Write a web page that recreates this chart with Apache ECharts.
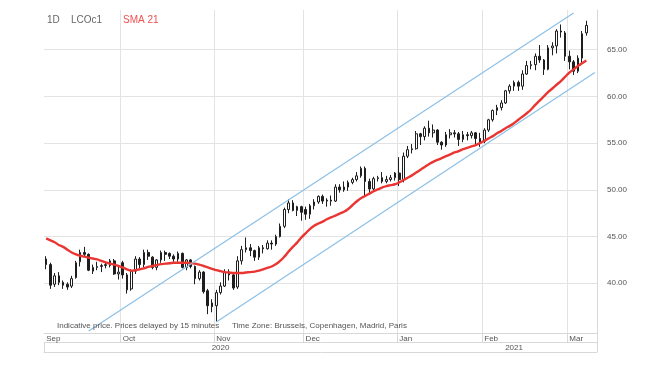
<!DOCTYPE html>
<html>
<head>
<meta charset="utf-8">
<script src="https://cdn.jsdelivr.net/npm/echarts@6/dist/echarts.min.js"></script>
<style>html,body{margin:0;padding:0;background:#fff}#c{width:660px;height:366px}</style>
</head>
<body>
<div id="c"></div>
<script>
// Trading days per month (category axis)
const tradingDays = [
  ['2020-09', [7,8,9,10,11,14,15,16,17,18,21,22,23,24,25,28,29,30]],
  ['2020-10', [1,2,5,6,7,8,9,12,13,14,15,16,19,20,21,22,23,26,27,28,29,30]],
  ['2020-11', [2,3,4,5,6,9,10,11,12,13,16,17,18,19,20,23,24,25,26,27,30]],
  ['2020-12', [1,2,3,4,7,8,9,10,11,14,15,16,17,18,21,22,23,24,28,29,30,31]],
  ['2021-01', [4,5,6,7,8,11,12,13,14,15,18,19,20,21,22,25,26,27,28,29]],
  ['2021-02', [1,2,3,4,5,8,9,10,11,12,15,16,17,18,19,22,23,24,25,26]],
  ['2021-03', [1,2,3,4,5,8,9]]
];
const monthNames = ['Jan','Feb','Mar','Apr','May','Jun','Jul','Aug','Sep','Oct','Nov','Dec'];
const yearLabels = {'2020-11-03':'2020','2021-02-10':'2021'};
const yTicks = [40,45,50,55,60,65];

const opens = [42.6,42.0,39.9,40.8,40.1,39.9,39.7,40.6,42.3,43.3,43.1,41.3,41.7,41.8,41.9,41.9,42.4,41.0,
  42.2,40.9,39.4,41.3,42.6,42.0,43.3,42.8,41.7,42.5,43.3,43.2,42.9,42.6,43.2,41.7,42.5,41.8,40.5,41.2,39.2,37.9,
  37.6,39.0,39.7,41.2,40.9,39.6,42.4,43.6,43.8,43.5,42.8,43.8,43.7,44.3,44.2,45.0,46.1,47.9,48.6,47.8,48.2,
  47.9,47.4,48.3,48.7,49.3,48.8,48.9,48.8,50.3,50.0,50.3,50.8,51.1,51.5,52.3,50.9,50.1,51.2,51.3,50.9,51.1,51.3,
  51.8,51.1,53.6,54.3,54.4,56.0,55.7,56.6,56.1,56.4,55.1,54.8,55.9,56.1,56.0,55.4,55.9,55.8,56.1,55.5,
  55.2,56.4,57.5,58.5,58.8,59.3,60.6,61.1,61.5,61.1,62.4,63.3,63.4,64.3,63.9,62.9,65.2,65.4,67.0,66.8,
  64.3,63.7,62.7,64.1,66.8];
const closes = [42.0,39.8,40.8,40.1,39.8,39.6,40.5,42.2,43.3,43.1,41.4,41.7,41.8,41.9,42.0,42.4,41.0,41.2,
  40.9,39.3,41.3,42.6,42.0,43.3,42.9,41.7,42.5,43.3,43.1,42.9,42.6,43.2,41.7,42.5,41.8,40.5,41.2,39.1,37.6,37.5,
  39.0,39.7,41.2,40.9,39.5,42.4,43.6,43.8,43.5,42.8,43.8,43.7,44.3,44.2,45.0,46.1,47.9,48.6,47.8,48.2,47.6,
  47.4,48.3,48.7,49.3,48.8,48.9,48.8,50.3,50.0,50.3,50.8,51.1,51.5,52.3,50.9,50.1,51.2,51.3,50.9,51.1,51.3,51.8,
  51.1,53.6,54.3,54.4,56.0,55.7,56.6,56.1,56.4,55.1,54.8,55.9,56.1,56.0,55.4,55.9,55.8,56.1,55.5,55.1,
  56.4,57.5,58.5,58.8,59.3,60.6,61.1,61.5,61.1,62.4,63.3,63.4,64.3,63.9,62.9,65.2,65.4,67.0,66.9,64.3,
  63.7,62.7,64.1,66.7,67.6];
const lows = [41.5,39.4,39.6,39.8,39.4,39.3,39.5,40.5,41.8,42.9,41.3,41.0,41.4,41.2,41.6,41.7,40.9,40.4,
  40.5,38.9,39.2,41.0,41.6,41.7,42.5,41.5,41.4,42.2,42.4,42.6,42.3,42.3,41.6,41.4,41.6,39.9,40.3,38.9,36.7,36.9,
  35.9,38.8,39.6,40.3,39.3,39.4,42.0,43.3,42.9,42.4,42.5,43.2,43.6,43.6,44.0,44.9,45.9,47.5,47.7,47.2,46.7,
  46.8,46.9,47.9,48.5,48.5,48.2,48.3,48.7,49.7,49.8,49.9,50.6,50.9,51.3,49.3,49.5,49.9,50.9,50.7,50.7,50.9,51.0,
  50.4,50.8,53.4,53.9,54.3,54.8,55.3,55.7,55.6,54.8,54.3,54.6,55.5,55.6,54.7,55.1,55.3,55.5,54.9,54.6,
  55.0,56.2,57.3,58.0,58.5,59.2,60.3,60.6,60.6,60.7,62.3,62.9,62.8,63.6,62.3,62.8,64.4,64.6,66.3,63.8,
  62.9,62.3,62.5,63.6,66.5];
const highs = [42.9,42.2,41.1,41.2,40.3,40.1,40.8,42.4,43.6,43.9,43.2,42.0,42.3,42.1,42.2,42.6,42.6,41.8,
  42.4,41.1,41.5,42.9,42.8,43.6,43.6,42.9,42.6,43.5,43.5,43.3,43.1,43.4,43.3,42.6,42.6,41.9,41.4,41.3,39.4,38.3,
  39.3,40.1,41.5,41.5,41.0,42.9,44.0,44.9,44.2,43.6,44.0,44.1,44.6,44.6,45.2,46.4,48.1,49.0,48.9,48.3,48.3,
  48.2,48.5,49.0,49.4,49.5,49.1,49.4,50.6,50.6,50.9,51.0,51.3,51.9,52.5,52.5,51.2,51.4,51.5,51.9,51.5,51.6,51.9,
  53.5,54.0,54.7,54.9,56.3,56.1,56.8,57.4,57.0,56.5,55.2,56.2,56.5,56.4,56.2,56.3,56.2,56.3,56.2,56.1,
  56.6,57.6,58.6,59.1,59.6,60.7,61.3,61.7,61.7,62.8,63.8,63.8,64.6,65.5,64.0,65.5,65.8,67.2,67.7,67.0,
  64.9,63.9,64.4,67.0,68.1];
const sma21 = [44.8,44.6,44.4,44.1,43.9,43.6,43.3,43.1,42.95,42.85,42.75,42.65,42.55,42.4,42.25,42.1,42.0,41.85,
  41.7,41.5,41.35,41.4,41.5,41.6,41.75,41.85,41.95,42.05,42.1,42.15,42.2,42.2,42.2,42.2,42.15,42.1,42.0,41.85,41.7,41.55,
  41.4,41.3,41.2,41.15,41.1,41.1,41.1,41.15,41.2,41.25,41.35,41.5,41.65,41.8,42.05,42.4,42.85,43.4,43.9,44.35,44.9,
  45.35,45.8,46.15,46.4,46.6,46.85,47.05,47.25,47.45,47.65,47.95,48.35,48.75,49.1,49.35,49.6,49.85,50.05,50.25,50.4,50.5,50.6,
  50.8,51.05,51.3,51.55,51.85,52.15,52.45,52.75,53.0,53.2,53.4,53.6,53.8,54.0,54.15,54.35,54.5,54.65,54.8,55.0,
  55.25,55.5,55.75,56.05,56.3,56.6,56.85,57.15,57.5,57.85,58.2,58.6,59.1,59.55,60.0,60.45,60.85,61.25,61.65,62.1,
  62.55,62.9,63.25,63.55,63.85];
// Channel endpoints [date, price]
const upperChannel = [['2020-09-21', 34.9], ['2021-03-02', 68.93]];
const lowerChannel = [['2020-11-02', 35.86], ['2021-03-09', 62.57]];

const cats = [];
tradingDays.forEach(([ym, days]) => days.forEach(d => cats.push(ym + '-' + String(d).padStart(2,'0'))));
const isMonthStart = i => i === 0 || cats[i].slice(0,7) !== cats[i-1].slice(0,7);
const candles = opens.map((o, i) => [o, closes[i], lows[i], highs[i]]);

const chart = echarts.init(document.getElementById('c'), null, {renderer: 'canvas'});
const axisGray = '#d8d8d8', gridGray = '#e3e3e3', txt = '#555';
chart.setOption({
  animation: false,
  backgroundColor: '#fff',
  grid: {left: 44, right: 63, top: 10, bottom: 33},
  xAxis: [
    {type: 'category', data: cats, boundaryGap: true,
      axisLine: {lineStyle: {color: axisGray}},
      axisTick: {show: true, length: 9, interval: (i) => i > 0 && isMonthStart(i), lineStyle: {color: axisGray}},
      axisLabel: {interval: (i) => isMonthStart(i), formatter: v => monthNames[+v.slice(5,7) - 1],
        align: 'left', fontSize: 8, color: txt, margin: 2, fontFamily: 'Liberation Sans, Arial'},
      splitLine: {show: true, interval: (i) => i > 0 && isMonthStart(i), lineStyle: {color: gridGray}}},
    {type: 'category', data: cats, boundaryGap: true, position: 'bottom', offset: 9,
      axisLine: {lineStyle: {color: axisGray}},
      axisTick: {show: true, length: 10, interval: (i, v) => v === '2021-01-04', lineStyle: {color: axisGray}},
      axisLabel: {interval: (i, v) => v in yearLabels, formatter: v => yearLabels[v] || '',
        fontSize: 8, color: txt, margin: 2, fontFamily: 'Liberation Sans, Arial'},
      splitLine: {show: false}},
    {type: 'category', data: cats, boundaryGap: true, position: 'bottom', offset: 19,
      axisLine: {lineStyle: {color: axisGray}}, axisTick: {show: false}, axisLabel: {show: false}, splitLine: {show: false}}
  ],
  yAxis: {type: 'value', position: 'right', min: 34.68, max: 69.25, scale: true,
    axisLine: {show: true, lineStyle: {color: axisGray}},
    axisTick: {show: false, customValues: yTicks},
    axisLabel: {customValues: yTicks, formatter: v => v.toFixed(2), fontSize: 8, color: txt, margin: 10, fontFamily: 'Liberation Sans, Arial'},
    splitLine: {show: true, lineStyle: {color: gridGray}}},
  series: [
    {name: 'LCOc1', type: 'candlestick', data: candles, barMaxWidth: 3,
      itemStyle: {color: '#ffffff', color0: '#1e1e1e', borderColor: '#1e1e1e', borderColor0: '#1e1e1e', borderWidth: 1}},
    {name: 'SMA 21', type: 'line', data: sma21, symbol: 'none', smooth: true,
      lineStyle: {color: '#ea3632', width: 2.4}, z: 3},
    {name: 'upper', type: 'line', data: upperChannel, symbol: 'none', lineStyle: {color: '#8cc0e6', width: 1.2}, z: 4},
    {name: 'lower', type: 'line', data: lowerChannel, symbol: 'none', lineStyle: {color: '#8cc0e6', width: 1.2}, z: 4}
  ],
  graphic: [
    {type: 'text', left: 47, top: 15, style: {text: '1D', fontSize: 10, fill: '#666', fontFamily: 'Liberation Sans, Arial'}},
    {type: 'text', left: 71, top: 15, style: {text: 'LCOc1', fontSize: 10, fill: '#666', fontFamily: 'Liberation Sans, Arial'}},
    {type: 'text', left: 123, top: 15, style: {text: 'SMA 21', fontSize: 10, fill: '#f05050', fontFamily: 'Liberation Sans, Arial'}},
    {type: 'text', left: 57, top: 322, z: 10, style: {text: 'Indicative price. Prices delayed by 15 minutes', fontSize: 8, fill: '#555', fontFamily: 'Liberation Sans, Arial'}},
    {type: 'text', left: 232, top: 322, z: 10, style: {text: 'Time Zone: Brussels, Copenhagen, Madrid, Paris', fontSize: 8, fill: '#555', fontFamily: 'Liberation Sans, Arial'}},
    {type: 'line', shape: {x1: 597.5, y1: 333, x2: 597.5, y2: 352}, style: {stroke: axisGray, lineWidth: 1}}
  ]
});
</script>
</body>
</html>
